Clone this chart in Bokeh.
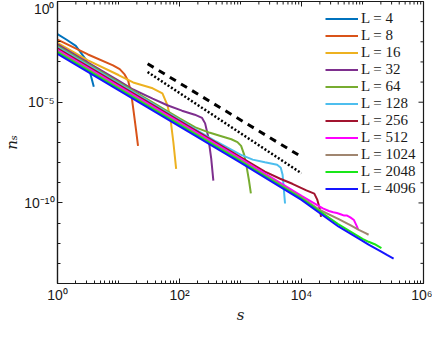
import numpy as np
from bokeh.plotting import figure
from bokeh.models import (FixedTicker, CustomJSTickFormatter, Legend,
                          LegendItem, Range1d)
from bokeh.embed import file_html
from bokeh.resources import INLINE

# ---- data (log10 s, log10 n_s) ----
L_values = [4, 8, 16, 32, 64, 128, 256, 512, 1024, 2048, 4096]
colors = ["#0072BD", "#D95319", "#EDB120", "#7E2F8E", "#77AC30", "#4DBEEE",
          "#A2142F", "#FF00FF", "#A08670", "#19E619", "#1515FF"]

L4_logs = [0.0, 0.15, 0.3, 0.354, 0.46, 0.487, 0.54, 0.595]
L4_logn = [-1.62, -1.9, -2.2, -2.43, -2.86, -3.1, -3.6, -4.23]

L8_logs = [0.0, 0.5, 0.91, 1.02, 1.1, 1.16, 1.21, 1.25, 1.29, 1.32]
L8_logn = [-1.89, -2.63, -3.17, -3.36, -3.62, -3.95, -4.6, -5.5, -6.44, -7.17]

L16_logs = [0.0, 0.5, 1.0, 1.24, 1.56, 1.72, 1.80, 1.85, 1.9, 1.945]
L16_logn = [-2.06, -2.92, -3.65, -4.02, -4.31, -4.56, -5.13, -5.78, -7.0, -8.31]

L32_logs = [0.0, 0.5, 1.0, 1.24, 1.56, 1.8, 2.04, 2.25, 2.37, 2.42, 2.47, 2.52, 2.555]
L32_logn = [-2.13, -3.03, -3.93, -4.37, -4.82, -5.15, -5.42, -5.62, -5.78, -6.05, -6.7, -7.8, -8.89]

L64_logs = [0.0, 1.0, 2.0, 2.26, 2.5, 2.7, 2.85, 2.95, 3.01, 3.06, 3.1, 3.14, 3.17]
L64_logn = [-2.2, -4.0, -5.8, -6.25, -6.52, -6.7, -6.84, -6.98, -7.17, -7.6, -8.2, -8.9, -9.53]

L128_logs = [0.0, 1.0, 2.0, 2.6, 3.0, 3.2, 3.4, 3.6, 3.66, 3.69, 3.71, 3.73]
L128_logn = [-2.27, -4.07, -5.87, -6.95, -7.6, -7.85, -7.98, -8.1, -8.25, -8.6, -9.3, -10.03]

L256_logs = [0.0, 1.0, 2.0, 3.0, 3.4, 3.65, 3.85, 4.08, 4.21, 4.26, 4.3, 4.32]
L256_logn = [-2.33, -4.13, -5.93, -7.73, -8.45, -8.8, -9.05, -9.38, -9.54, -9.85, -10.3, -10.69]

L512_logs = [0.0, 1.0, 2.0, 3.0, 4.0, 4.35, 4.45, 4.52, 4.58, 4.64, 4.7, 4.74, 4.8, 4.86, 4.91, 4.93]
L512_logn = [-2.4, -4.2, -6.0, -7.8, -9.65, -10.27, -10.4, -10.46, -10.5, -10.56, -10.63, -10.62,
             -10.72, -10.85, -11.18, -11.34]

L1024_logs = [0.0, 1.0, 2.0, 3.0, 4.0, 4.3, 4.61, 4.8, 4.94, 5.05, 5.1]
L1024_logn = [-2.46, -4.27, -6.07, -7.87, -9.72, -10.35, -10.8, -11.1, -11.34, -11.5, -11.58]

L2048_logs = [0.0, 1.0, 2.0, 3.0, 4.0, 4.6, 5.0, 5.1, 5.2, 5.31]
L2048_logn = [-2.53, -4.33, -6.13, -7.93, -9.78, -11.05, -11.78, -11.93, -12.05, -12.24]

L4096_logs = [0.0, 1.0, 2.0, 3.0, 4.0, 4.61, 5.0, 5.1, 5.3, 5.4, 5.51]
L4096_logn = [-2.6, -4.4, -6.2, -8.0, -9.85, -11.18, -11.88, -12.07, -12.4, -12.58, -12.76]

series_logs = [L4_logs, L8_logs, L16_logs, L32_logs, L64_logs, L128_logs, L256_logs,
               L512_logs, L1024_logs, L2048_logs, L4096_logs]
series_logn = [L4_logn, L8_logn, L16_logn, L32_logn, L64_logn, L128_logn, L256_logn,
               L512_logn, L1024_logn, L2048_logn, L4096_logn]

# reference slopes
ref_s = [30, 1e4]
dashed_logn = [-3.09, -7.71]
dotted_logn = [-3.5, -8.53]

x_lo, x_hi = 1, 1e6
y_lo, y_hi = 1e-14, 1
x_major = [1, 1e2, 1e4, 1e6]
y_major = [1, 1e-5, 1e-10]
x_minor = [m * 10 ** k for k in range(0, 6) for m in range(2, 11)]
y_minor = [10.0 ** (-k) for k in range(1, 15) if k not in (5, 10)]

p = figure(frame_width=366, frame_height=282, x_axis_type="log", y_axis_type="log",
           x_range=Range1d(x_lo, x_hi), y_range=Range1d(y_lo, y_hi),
           output_backend="svg", toolbar_location=None,
           min_border_left=45, min_border_right=9, min_border_top=1,
           min_border_bottom=30)
p.grid.visible = False
p.outline_line_color = "#1a1a1a"
p.outline_line_width = 1.2
p.background_fill_color = "white"

sup_js = """
const sup = {'-':'\u207b','0':'\u2070','1':'\u00b9','2':'\u00b2','3':'\u00b3','4':'\u2074',
             '5':'\u2075','6':'\u2076','7':'\u2077','8':'\u2078','9':'\u2079'};
const e = Math.round(Math.log10(tick));
return '10' + String(e).split('').map(c => sup[c]).join('');
"""

items = []
for L, c, lx, ly in zip(L_values, colors, series_logs, series_logn):
    r = p.line(10 ** np.array(lx), 10 ** np.array(ly), line_color=c, line_width=2)
    items.append(LegendItem(label=f"L = {L}", renderers=[r]))

p.line(ref_s, 10 ** np.array(dashed_logn), line_color="black", line_width=3, line_dash="7 6")
p.line(ref_s, 10 ** np.array(dotted_logn), line_color="black", line_width=2.5, line_dash="2 2")

# ticks on top and right edges (inward), drawn as short screen-length rays
tick_col = "#1a1a1a"
p.ray(x=x_major, y=[y_hi] * len(x_major), length=5, length_units="screen",
      angle=-np.pi / 2, line_color=tick_col, line_width=1)
p.ray(x=x_minor, y=[y_hi] * len(x_minor), length=3, length_units="screen",
      angle=-np.pi / 2, line_color=tick_col, line_width=1)
p.ray(x=[x_hi] * len(y_major), y=y_major, length=5, length_units="screen",
      angle=np.pi, line_color=tick_col, line_width=1)
p.ray(x=[x_hi] * len(y_minor), y=y_minor, length=3, length_units="screen",
      angle=np.pi, line_color=tick_col, line_width=1)

for ax, tk in ((p.xaxis[0], FixedTicker(ticks=x_major, minor_ticks=x_minor)),
               (p.yaxis[0], FixedTicker(ticks=y_major, minor_ticks=y_minor))):
    ax.ticker = tk
    ax.axis_line_color = tick_col
    ax.axis_line_width = 1.2
    ax.major_tick_line_color = tick_col
    ax.minor_tick_line_color = tick_col
    ax.major_tick_in = 5
    ax.major_tick_out = 0
    ax.minor_tick_in = 3
    ax.minor_tick_out = 0
    ax.formatter = CustomJSTickFormatter(code=sup_js)
    ax.major_label_text_font = "Liberation Sans"
    ax.major_label_text_font_size = "14px"
    ax.major_label_text_color = tick_col
    ax.axis_label_text_font = "DejaVu Serif"
    ax.axis_label_text_font_style = "italic"
    ax.axis_label_text_font_size = "15px"
    ax.axis_label_text_color = tick_col
    ax.axis_label_standoff = 0

p.xaxis.major_label_standoff = 3
p.yaxis.major_label_standoff = 3
p.xaxis.axis_label = "s"
p.yaxis.axis_label = "n\u209b"

legend = Legend(items=items, location=(268, 86), padding=0, margin=0, spacing=0,
                glyph_width=33, glyph_height=17, label_height=17, label_standoff=3,
                label_text_font="Liberation Serif", label_text_font_size="15px",
                label_text_color=tick_col,
                border_line_color=None, background_fill_alpha=0)
p.add_layout(legend, "center")

open("out.html", "w").write(file_html(p, INLINE))
